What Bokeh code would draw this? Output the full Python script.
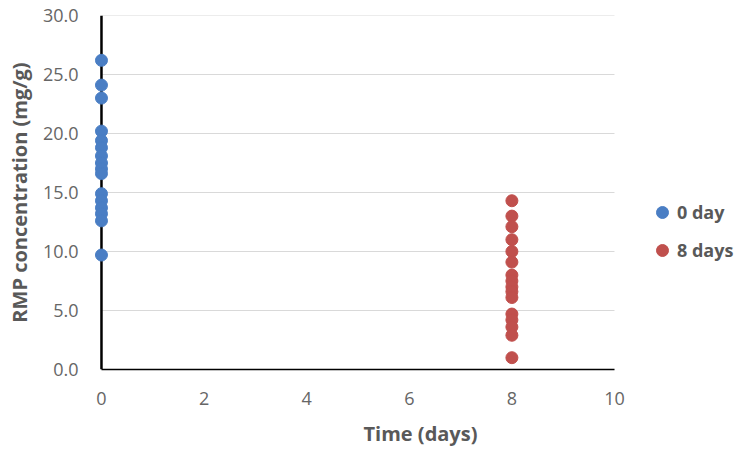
from bokeh.plotting import figure
from bokeh.models import (Range1d, FixedTicker, NumeralTickFormatter, Span,
                          Legend, LegendItem, ColumnDataSource)
from bokeh.embed import file_html
from bokeh.resources import INLINE

# ---- data ----
day0_time = 0
day0_values = [26.2, 24.1, 23.0, 20.2, 19.4, 18.8, 18.1, 17.5, 17.0, 16.6,
               14.9, 14.3, 13.7, 13.2, 12.6, 9.7]
day8_time = 8
day8_values = [14.3, 13.0, 12.1, 11.0, 10.0, 9.1, 8.0, 7.5, 7.0, 6.6, 6.1,
               4.7, 4.2, 3.6, 2.9, 1.0]
series_labels = ["0 day", "8 days"]
x_ticks = [0, 2, 4, 6, 8, 10]
y_ticks = [0, 5, 10, 15, 20, 25, 30]

FONT = "Open Sans"
GREY = "#595959"
TICK_GREY = "#666666"
BLUE = "#4A7EC4"
RED = "#C0504D"

p = figure(width=746, height=450, output_backend="svg", toolbar_location=None,
           x_range=Range1d(-0.136, 12.573), y_range=Range1d(0, 30),
           min_border_left=94, min_border_right=0, min_border_top=15,
           min_border_bottom=81)
p.outline_line_color = None
p.background_fill_color = "white"
p.border_fill_color = "white"
p.grid.visible = False

# horizontal gridlines from x=0 to x=10 only
p.segment(x0=[x_ticks[0]] * len(y_ticks), x1=[x_ticks[-1]] * len(y_ticks),
          y0=y_ticks, y1=y_ticks, line_color="#D9D9D9", line_width=1,
          level="underlay")

# vertical black axis line at x = 0
p.add_layout(Span(location=0, dimension="height", line_color="black",
                  line_width=2.5, level="underlay"))

src0 = ColumnDataSource(dict(x=[day0_time] * len(day0_values), y=day0_values))
src8 = ColumnDataSource(dict(x=[day8_time] * len(day8_values), y=day8_values))
r0 = p.scatter("x", "y", source=src0, size=12, fill_color=BLUE, line_color=BLUE)
r8 = p.scatter("x", "y", source=src8, size=12, fill_color=RED, line_color=RED)

# x axis
xa = p.xaxis[0]
xa.ticker = FixedTicker(ticks=x_ticks)
xa.bounds = (x_ticks[0], x_ticks[-1])
xa.axis_line_color = "black"
xa.axis_line_width = 1.5
xa.major_tick_line_color = None
xa.minor_tick_line_color = None
xa.major_label_standoff = 16
xa.major_label_text_font = FONT
xa.major_label_text_font_size = "18px"
xa.major_label_text_color = TICK_GREY
xa.axis_label = "Time (days)"
xa.axis_label_text_font = FONT
xa.axis_label_text_font_size = "20px"
xa.axis_label_text_font_style = "bold"
xa.axis_label_text_color = GREY
xa.axis_label_standoff = 12

# y axis
ya = p.yaxis[0]
ya.ticker = FixedTicker(ticks=y_ticks)
ya.formatter = NumeralTickFormatter(format="0.0")
ya.axis_line_color = None
ya.major_tick_line_color = None
ya.minor_tick_line_color = None
ya.major_label_standoff = 10
ya.major_label_text_font = FONT
ya.major_label_text_font_size = "18px"
ya.major_label_text_color = TICK_GREY
ya.axis_label = "RMP concentration (mg/g)"
ya.axis_label_text_font = FONT
ya.axis_label_text_font_size = "20px"
ya.axis_label_text_font_style = "bold"
ya.axis_label_text_color = GREY
ya.axis_label_standoff = 7

legend = Legend(items=[LegendItem(label=series_labels[0], renderers=[r0]),
                       LegendItem(label=series_labels[1], renderers=[r8])],
                location=(553, 104), orientation="vertical",
                glyph_width=30, glyph_height=30, label_standoff=0,
                spacing=8, padding=0, margin=0,
                border_line_color=None, background_fill_alpha=0,
                label_text_font=FONT, label_text_font_size="18px",
                label_text_font_style="bold", label_text_color=GREY)
p.add_layout(legend, "center")

open("out.html", "w").write(file_html(p, INLINE))
